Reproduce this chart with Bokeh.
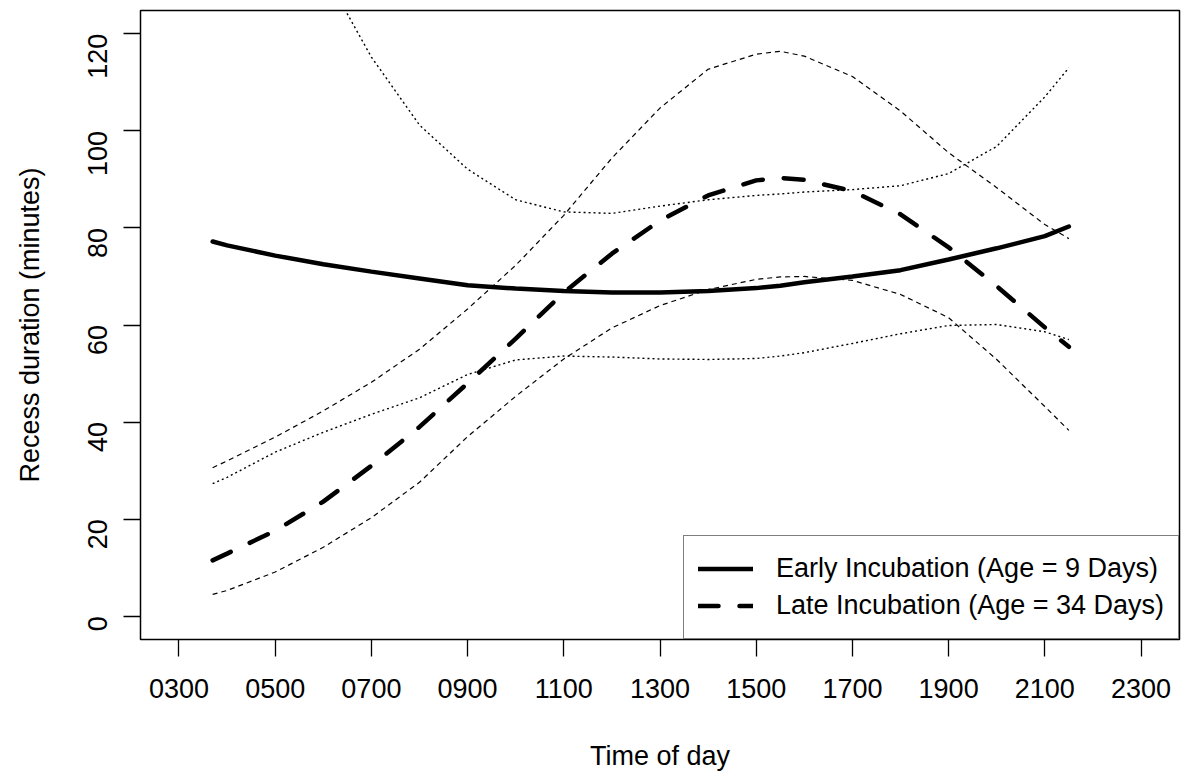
import math
from bokeh.plotting import figure
from bokeh.models import FixedTicker, Range1d, Legend, LegendItem
from bokeh.embed import file_html
from bokeh.resources import INLINE

# ---- data ----
hours = [3.7, 4, 5, 6, 7, 8, 9, 10, 11, 12, 13, 14, 15, 15.5, 16, 17, 18, 19, 20, 21, 21.5]

early_fit = [77.2, 76.4, 74.3, 72.5, 71.0, 69.6, 68.2, 67.5, 67.0, 66.7, 66.7, 67.0, 67.6,
             68.1, 68.8, 70.0, 71.3, 73.5, 75.8, 78.3, 80.3]
early_upper = [185.0, 175.0, 152.0, 133.0, 115.2, 101.2, 92.1, 85.8, 83.3, 83.0, 84.5, 85.8,
               86.7, 87.0, 87.4, 87.9, 88.7, 91.2, 96.8, 107.0, 113.0]
early_lower = [27.3, 28.6, 33.8, 37.9, 41.6, 45.0, 49.8, 52.8, 53.6, 53.4, 53.0, 52.9, 53.1,
               53.6, 54.3, 56.2, 58.2, 59.9, 60.1, 58.6, 57.0]

late_fit = [11.5, 12.9, 17.6, 23.6, 31.0, 39.0, 48.0, 57.2, 66.7, 74.7, 81.5, 86.7, 89.8,
            90.3, 89.9, 87.6, 82.8, 76.0, 68.0, 59.5, 55.5]
late_upper = [30.6, 32.0, 36.9, 42.3, 48.2, 55.0, 63.3, 72.3, 82.6, 94.4, 104.7, 112.7, 115.8,
              116.4, 115.4, 111.2, 104.1, 95.5, 88.3, 80.7, 77.8]
late_lower = [4.5, 5.3, 9.1, 14.2, 20.3, 27.6, 37.0, 45.3, 53.0, 59.4, 64.0, 67.3, 69.4,
              69.9, 70.0, 69.2, 66.3, 61.5, 52.9, 43.2, 38.3]

x_ticks = [3, 5, 7, 9, 11, 13, 15, 17, 19, 21, 23]
x_tick_labels = ["0300", "0500", "0700", "0900", "1100", "1300", "1500", "1700", "1900",
                 "2100", "2300"]
y_ticks = [0, 20, 40, 60, 80, 100, 120]

series_labels = ["Early Incubation (Age = 9 Days)", "Late Incubation (Age = 34 Days)"]

FONT = "Liberation Sans"
FS = "27px"

p = figure(width=1181, height=776, output_backend="svg", toolbar_location=None,
           x_range=Range1d(2.2, 23.8), y_range=Range1d(-4.8, 124.8),
           min_border_left=140, min_border_right=2, min_border_top=10, min_border_bottom=137)

p.background_fill_color = "white"
p.border_fill_color = "white"
p.grid.visible = False
p.outline_line_color = "black"
p.outline_line_width = 1.5

# confidence bands (thin)
p.line(hours, early_upper, line_color="black", line_width=1.4, line_dash="2 3")
p.line(hours, early_lower, line_color="black", line_width=1.4, line_dash="2 3")
p.line(hours, late_upper, line_color="black", line_width=1.2, line_dash="5 4")
p.line(hours, late_lower, line_color="black", line_width=1.2, line_dash="5 4")

# fitted curves (thick)
r_early = p.line(hours, early_fit, line_color="black", line_width=4.5, line_cap="round")
r_late = p.line(hours, late_fit, line_color="black", line_width=4.5, line_dash="20 21",
                line_cap="round")

# axes
for ax in (p.xaxis[0], p.yaxis[0]):
    ax.axis_line_color = None
    ax.major_tick_in = 0
    ax.major_tick_out = 17
    ax.major_tick_line_color = "black"
    ax.major_tick_line_width = 1.3
    ax.minor_tick_line_color = None
    ax.major_label_text_font = FONT
    ax.major_label_text_font_size = FS
    ax.major_label_text_color = "black"
    ax.axis_label_text_font = FONT
    ax.axis_label_text_font_size = FS
    ax.axis_label_text_font_style = "normal"
    ax.axis_label_text_color = "black"

p.xaxis.ticker = FixedTicker(ticks=x_ticks)
p.xaxis.major_label_overrides = {t: lab for t, lab in zip(x_ticks, x_tick_labels)}
p.xaxis.axis_label = "Time of day"
p.xaxis.major_label_standoff = 22
p.xaxis.axis_label_standoff = 40

p.yaxis.ticker = FixedTicker(ticks=y_ticks)
p.yaxis.axis_label = "Recess duration (minutes)"
p.yaxis.major_label_orientation = math.pi / 2
p.yaxis.major_label_standoff = 26
p.yaxis.axis_label_standoff = 31

legend = Legend(items=[LegendItem(label=series_labels[0], renderers=[r_early]),
                       LegendItem(label=series_labels[1], renderers=[r_late])],
                location="bottom_right", margin=0, padding=14, spacing=0,
                glyph_width=55, glyph_height=37, label_height=37, label_standoff=23,
                label_text_font=FONT, label_text_font_size=FS, label_text_color="black",
                border_line_color="black", border_line_width=1.5,
                background_fill_color="white", background_fill_alpha=1.0)
p.add_layout(legend)

open("out.html", "w").write(file_html(p, INLINE))
